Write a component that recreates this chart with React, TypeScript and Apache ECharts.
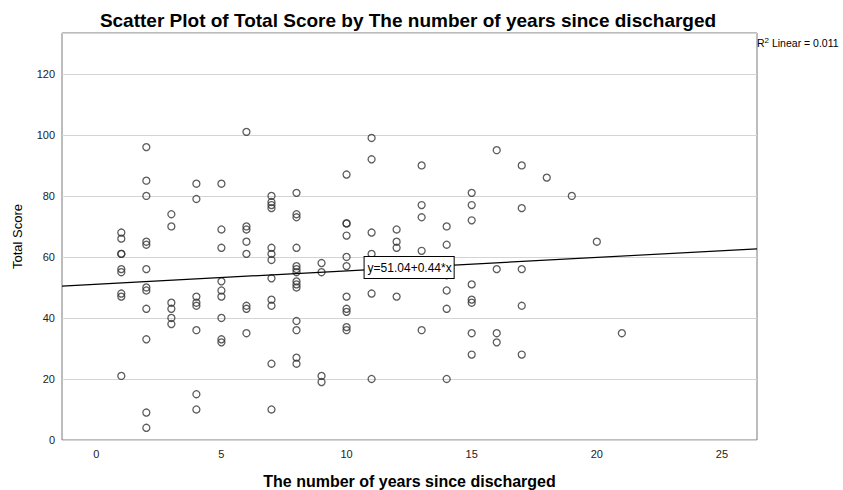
import React, { useEffect, useRef } from "react";
import * as echarts from "echarts";

// Years since discharged (x categories present in the data)
const yearsSinceDischarged = [1, 2, 3, 4, 5, 6, 7, 8, 9, 10, 11, 12, 13, 14, 15, 16, 17, 18, 19, 20, 21];

// Total Score values observed for each year (same order as yearsSinceDischarged)
const scoresByYear: number[][] = [
  [68, 66, 61, 61, 56, 55, 48, 47, 21],
  [96, 85, 80, 65, 64, 56, 50, 49, 43, 33, 9, 4],
  [74, 70, 45, 43, 40, 38],
  [84, 79, 47, 45, 44, 36, 15, 10],
  [84, 69, 63, 52, 49, 47, 40, 33, 32],
  [101, 70, 69, 65, 61, 44, 43, 35],
  [80, 78, 77, 76, 63, 61, 59, 53, 46, 44, 25, 10],
  [81, 74, 73, 63, 57, 56, 55, 52, 51, 50, 39, 36, 27, 25],
  [58, 55, 21, 19],
  [87, 71, 71, 67, 60, 57, 47, 43, 42, 37, 36],
  [99, 92, 68, 61, 48, 20],
  [69, 65, 63, 47],
  [90, 77, 73, 62, 36],
  [70, 64, 54, 49, 43, 20],
  [81, 77, 72, 51, 46, 45, 35, 28],
  [95, 56, 35, 32],
  [90, 76, 56, 44, 28],
  [86],
  [80],
  [65],
  [35],
];

// Fitted linear model
const intercept = 51.04;
const slope = 0.44;
const rSquared = "0.011";

// Axis tick labels
const xTickValues = [0, 5, 10, 15, 20, 25];
const yTickValues = [0, 20, 40, 60, 80, 100, 120];

const X_MIN = -1.37;
const X_MAX = 26.4;
const Y_MIN = 0;
const Y_MAX = 133.4;

export default function App() {
  const ref = useRef<HTMLDivElement>(null);

  useEffect(() => {
    if (!ref.current) return;
    const chart = echarts.init(ref.current, undefined, { renderer: "svg" });

    const points: number[][] = [];
    yearsSinceDischarged.forEach((yr, i) => {
      scoresByYear[i].forEach((s) => points.push([yr, s]));
    });

    const fitLine = [
      [X_MIN, intercept + slope * X_MIN],
      [X_MAX, intercept + slope * X_MAX],
    ];

    const font = "Liberation Sans, Arial, sans-serif";

    chart.setOption({
      animation: false,
      backgroundColor: "#ffffff",
      title: {
        text: "Scatter Plot of Total Score by The number of years since discharged",
        left: 403,
        textAlign: "center",
        top: 6,
        textStyle: {
          fontFamily: font,
          fontWeight: "bold",
          fontSize: 19,
          color: "#000",
        },
      },
      grid: {
        left: 62,
        right: 86,
        top: 33,
        bottom: 50,
        containLabel: false,
        outerBoundsMode: "none",
        show: true,
        borderColor: "#7a7a7a",
        borderWidth: 1,
        backgroundColor: "transparent",
      },
      xAxis: {
        type: "value",
        min: X_MIN,
        max: X_MAX,
        name: "The number of years since discharged",
        nameLocation: "middle",
        nameGap: 33,
        nameTextStyle: {
          fontFamily: font,
          fontWeight: "bold",
          fontSize: 16,
          color: "#000",
        },
        axisLine: { show: false },
        axisTick: { show: false },
        splitLine: { show: false },
        axisLabel: {
          customValues: xTickValues,
          fontFamily: font,
          fontSize: 11,
          color: "#222",
          margin: 8,
        },
      },
      yAxis: {
        type: "value",
        min: Y_MIN,
        max: Y_MAX,
        interval: 20,
        name: "Total Score",
        nameLocation: "middle",
        nameGap: 38,
        nameTextStyle: {
          fontFamily: font,
          fontSize: 13,
          color: "#000",
        },
        axisLine: { show: false },
        axisTick: { show: false },
        splitLine: { show: true, lineStyle: { color: "#d4d4d4", width: 1 } },
        axisLabel: {
          customValues: yTickValues,
          fontFamily: font,
          fontSize: 11,
          color: "#222",
          margin: 7,
        },
      },
      series: [
        {
          type: "scatter",
          data: points,
          symbol: "circle",
          symbolSize: 7,
          itemStyle: {
            color: "rgba(255,255,255,0)",
            borderColor: "#333",
            borderWidth: 1.3,
          },
          z: 3,
        },
        {
          type: "line",
          data: fitLine,
          symbol: "none",
          lineStyle: { color: "#000", width: 1.2 },
          z: 4,
          markPoint: {
            symbol: "rect",
            symbolSize: 0,
            data: [{ coord: [12.5, 56.5], value: 0 }],
            label: {
              show: true,
              position: "inside",
              formatter: `y=${intercept.toFixed(2)}+${slope.toFixed(2)}*x`,
              fontFamily: font,
              fontSize: 12,
              color: "#000",
              backgroundColor: "#fff",
              borderColor: "#000",
              borderWidth: 1,
              padding: [5, 2, 4, 3],
            },
          },
        },
      ],
      graphic: [
        {
          type: "text",
          left: 757,
          top: 36,
          style: {
            text: `{r|R}{s|2}{t| Linear = ${rSquared}}`,
            rich: {
              r: { fontFamily: font, fontSize: 10.5, fill: "#000" },
              s: { fontFamily: font, fontSize: 8, fill: "#000", padding: [0, 0, 6, 0] },
              t: { fontFamily: font, fontSize: 10.5, fill: "#000" },
            },
          },
          z: 10,
        },
      ],
    });

    return () => chart.dispose();
  }, []);

  return (
    <div
      ref={ref}
      style={{ position: "fixed", left: 0, top: 0, width: 843, height: 490, overflow: "hidden" }}
    />
  );
}
